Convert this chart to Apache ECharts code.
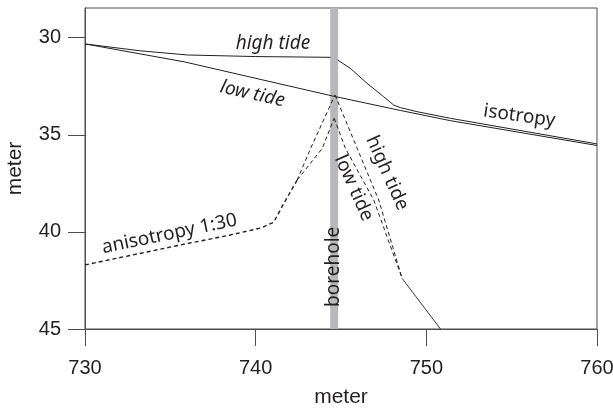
<!DOCTYPE html>
<html><head><meta charset="utf-8">
<script src="https://cdn.jsdelivr.net/npm/echarts@6/dist/echarts.min.js"></script>
<style>html,body{margin:0;padding:0;background:#fff}#c{width:613px;height:408px}</style>
</head><body><div id="c"></div>
<script>
// ---- data ----
const xTicks = [730, 740, 750, 760];
const yTicks = [30, 35, 40, 45];
const xRange = [730, 760];
const yRange = [28.47, 45];
const boreholeX = 744.6;

const isoHighLeft = [[730,30.32],[733.2,30.67],[736.0,30.89],[740,30.97],[744.38,31.01]];
const isoHighRight = [[744.81,31.15],[745.55,31.58],[746.53,32.35],[747.5,33.04],[748.09,33.47],[748.48,33.6],[749.46,33.81],[751.41,34.15],[760,35.47]];
const isoLow = [[730,30.32],[735.8,31.24],[744.5,33.0],[748.5,33.75],[751.4,34.27],[760,35.55]];

const anisoShared = [[730,41.7],[735.6,40.67],[738.5,40.16],[740.3,39.8],[741.06,39.5],[741.65,38.53],[742.43,37.33]];
const anisoHighLeft = [[742.43,37.33],[743.22,35.7],[744.65,32.95]];
const anisoHighRight = [[744.65,32.95],[745.95,35.7],[747.21,38.36],[748.58,42.39]];
const anisoLowLeft = [[742.43,37.33],[743.9,35.7],[744.6,34.15]];
const anisoLowRight = [[744.6,34.15],[745.26,35.7],[746.92,38.36],[748.58,42.39]];
const anisoTail = [[748.58,42.39],[750.83,45]];

const annotTexts = ['high tide','low tide','isotropy','anisotropy 1:30','borehole','low tide','high tide'];
const annotX = [741.01, 739.81, 755.45, 734.95, 744.56, 745.75, 747.7];
const annotY = [30.32, 32.9, 34.03, 40.11, 41.8, 37.74, 36.97];
const annotRotate = [0, -12.7, -8, 11.7, 90, -66, -66];
const annotItalic = [true, true, false, false, false, false, false];

// ---- chart ----
const ink = '#231f20';
const axisCol = '#4d4d4d';
const chart = echarts.init(document.getElementById('c'), null, {renderer:'canvas'});
function lineSeries(data, dashed, width){
  return {type:'line', data:data, symbol:'none', silent:true, z:3,
    lineStyle:{color:ink, width:width||1, type: dashed ? [4,3] : 'solid'}};
}
const annotData = annotTexts.map((t,i)=>({
  value:[annotX[i], annotY[i]],
  label:{show:true, formatter:t, rotate:annotRotate[i], color:ink, textBorderWidth:0,
    fontStyle: annotItalic[i]?'italic':'normal'}
}));
chart.setOption({
  animation:false,
  grid:{left:85, right:16, top:8, bottom:79, show:true, borderColor:axisCol, borderWidth:1,
    backgroundColor:'transparent', containLabel:false, outerBoundsMode:'none'},
  xAxis:{type:'value', min:xRange[0], max:xRange[1], interval:10,
    name:'meter', nameLocation:'middle', nameGap:58,
    nameTextStyle:{fontFamily:'Liberation Sans', fontSize:21, color:ink},
    axisLine:{show:true, lineStyle:{color:axisCol, width:1}},
    axisTick:{show:true, length:17, lineStyle:{color:axisCol, width:1}},
    axisLabel:{margin:29, fontFamily:'Liberation Sans', fontSize:20, color:ink,
      formatter:v=> xTicks.includes(v) ? String(v) : ''},
    splitLine:{show:false}},
  yAxis:{type:'value', inverse:true, min:yRange[0], max:yRange[1],
    name:'meter', nameLocation:'middle', nameGap:59,
    nameTextStyle:{fontFamily:'Liberation Sans', fontSize:21, color:ink},
    axisLine:{show:true, lineStyle:{color:axisCol, width:1}},
    axisTick:{show:true, length:17, customValues:yTicks, lineStyle:{color:axisCol, width:1}},
    axisLabel:{margin:24, customValues:yTicks, fontFamily:'Liberation Sans', fontSize:20, color:ink},
    splitLine:{show:false}},
  series:[
    {type:'line', data:[[boreholeX,yRange[0]],[boreholeX,yRange[1]]], symbol:'none', silent:true, z:1,
      lineStyle:{color:'#b8b8bc', width:8, cap:'butt'}},
    lineSeries(isoHighLeft,false),
    lineSeries(isoHighRight,false),
    lineSeries(isoLow,false),
    lineSeries(anisoShared,true,1.4),
    lineSeries(anisoHighLeft,true),
    lineSeries(anisoHighRight,true),
    lineSeries(anisoLowLeft,true),
    lineSeries(anisoLowRight,true),
    lineSeries(anisoTail,false,0.9),
    {type:'scatter', data:annotData, symbolSize:0, silent:true, z:5,
      itemStyle:{opacity:1},
      label:{show:true, position:'inside', align:'center', verticalAlign:'middle', opacity:1,
        fontFamily:'Noto Sans', fontSize:19, color:ink, textBorderWidth:0}}
  ]
});
</script></body></html>
